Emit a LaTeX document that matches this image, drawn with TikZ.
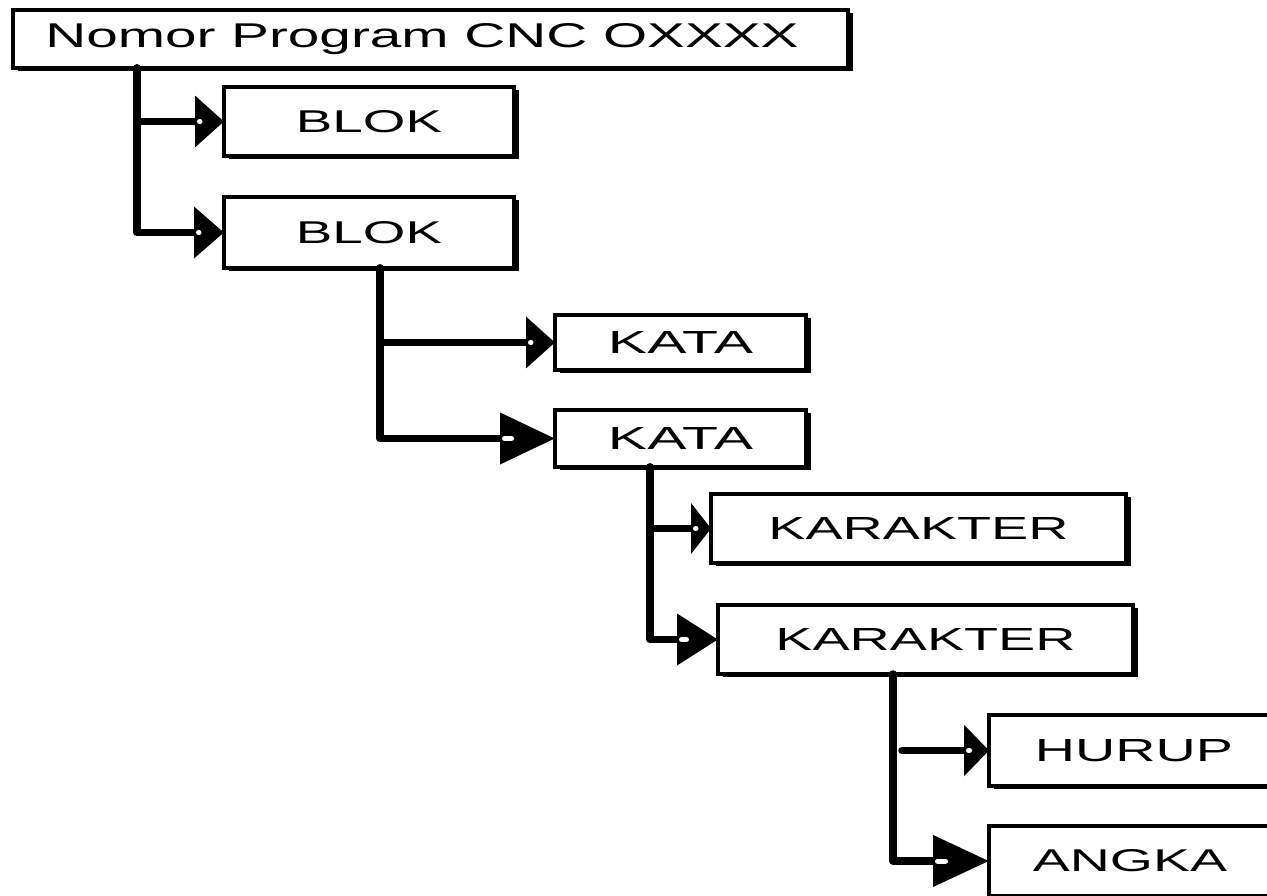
\documentclass[tikz,border=0pt]{standalone}
\usepackage{fontspec}
\setsansfont{Liberation Sans}
\usetikzlibrary{arrows.meta,shadows}

\tikzset{
  stepbox/.style={rectangle, draw=black, line width=4.5pt, fill=white,
    inner sep=0pt, outer sep=0pt, anchor=north west, font=\sffamily,
    general shadow={fill=black, shadow xshift=5pt, shadow yshift=-3pt}},
  link/.style={line width=7.5pt, line cap=round, line join=round},
  tip/.style={-{Triangle[length=#1, width=50pt]}},
  notch/.style={draw=white, line width=5pt, line cap=round},
}
% widened capitals, as in the chart labels
\newcommand\widetext[2]{\resizebox{#1}{22pt}{#2}}
% small light mark where a connector enters its arrowhead
\newcommand\tipnotch[3]{\draw[notch] ([xshift=#2]#1.west) -- ([xshift=#3]#1.west);}

\begin{document}
\begin{tikzpicture}[x=1pt, y=-1pt]
  \useasboundingbox (0,0) rectangle (1267,896);
  \clip (0,0) rectangle (1267,896);
  \fill[white] (0,0) rectangle (1267,896);

  % program and its blocks
  \node[stepbox, minimum width=835pt, minimum height=58pt] (prog) at (13,10)
    {\resizebox{753pt}{24pt}{Nomor Program CNC OXXXX}\hspace*{17pt}};
  \node[stepbox, minimum width=290pt, minimum height=69pt] (blok1) at (224,87)
    {\widetext{146pt}{BLOK}};
  \node[stepbox, minimum width=290pt, minimum height=71pt] (blok2) at (224,197)
    {\widetext{146pt}{BLOK}};

  % words of a block
  \node[stepbox, minimum width=251pt, minimum height=55pt] (kata1) at (555,315)
    {\widetext{145pt}{KATA}};
  \node[stepbox, minimum width=251pt, minimum height=57pt] (kata2) at (555,410)
    {\widetext{145pt}{KATA}};

  % characters of a word
  \node[stepbox, minimum width=415pt, minimum height=69pt] (kar1) at (711,494)
    {\widetext{300pt}{KARAKTER}};
  \node[stepbox, minimum width=415pt, minimum height=69pt] (kar2) at (718,605)
    {\widetext{300pt}{KARAKTER}};

  % kinds of character
  \node[stepbox, minimum width=290pt, minimum height=71pt] (hurup) at (989,715)
    {\widetext{198pt}{HURUP}};
  \node[stepbox, minimum width=282pt, minimum height=70pt] (angka) at (989,826)
    {\widetext{194pt}{ANGKA}};

  % connectors
  \draw[link, tip=29pt] ([xshift=124pt]prog.south west) |- (blok1);
  \draw[link, tip=30pt] ([xshift=124pt]prog.south west) |- (blok2);

  \draw[link, tip=29pt] ([xshift=156pt]blok2.south west) |- (kata1);
  \draw[link, tip=55pt] ([xshift=156pt]blok2.south west) |- (kata2);

  \draw[link, tip=20pt] ([xshift=95pt]kata2.south west) |- (kar1);
  \draw[link, tip=41pt] ([xshift=95pt]kata2.south west) |- (kar2);

  \coordinate (hstart) at (902,750.5);
  \draw[link, tip=25pt] (hstart) -- (hstart -| hurup.west);
  \draw[link, tip=56pt] ([xshift=175pt]kar2.south west) |- (angka);

  % marks inside the arrowheads
  \tipnotch{blok1}{-24.5pt}{-24pt}
  \tipnotch{blok2}{-25.5pt}{-25pt}
  \tipnotch{kata1}{-24.5pt}{-24pt}
  \tipnotch{kata2}{-50.5pt}{-43.5pt}
  \tipnotch{kar1}{-15.5pt}{-15pt}
  \tipnotch{kar2}{-36.5pt}{-31.5pt}
  \tipnotch{hurup}{-20.5pt}{-19.5pt}
  \tipnotch{angka}{-51.5pt}{-43.5pt}
\end{tikzpicture}
\end{document}
